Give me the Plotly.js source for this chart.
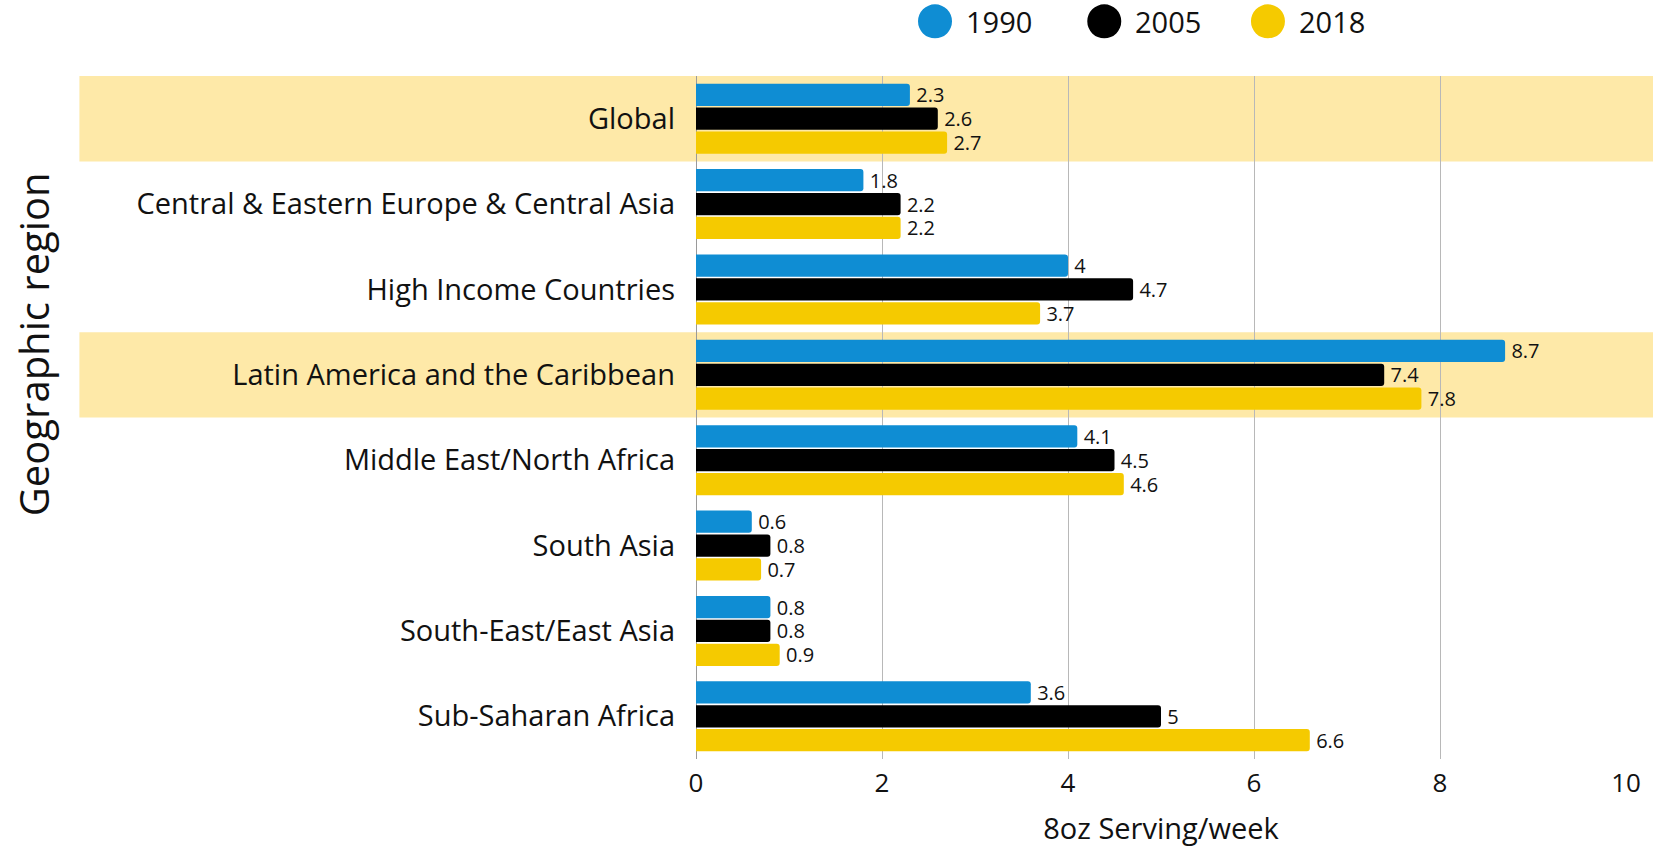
<!DOCTYPE html>
<html>
<head>
<meta charset="utf-8">
<script src="https://cdn.plot.ly/plotly-3.0.1.min.js"></script>
<style>
  html, body { margin: 0; padding: 0; background: #fff; }
  #grafica { width: 1653px; height: 847px; }
</style>
</head>
<body>
<div id="grafica"></div>
<script>
const regiones = [
  'Global',
  'Central & Eastern Europe & Central Asia',
  'High Income Countries',
  'Latin America and the Caribbean',
  'Middle East/North Africa',
  'South Asia',
  'South-East/East Asia',
  'Sub-Saharan Africa'
];

const anios = ['1990', '2005', '2018'];

const valores1990 = [2.3, 1.8, 4, 8.7, 4.1, 0.6, 0.8, 3.6];
const valores2005 = [2.6, 2.2, 4.7, 7.4, 4.5, 0.8, 0.8, 5];
const valores2018 = [2.7, 2.2, 3.7, 7.8, 4.6, 0.7, 0.9, 6.6];

const resaltadas = ['Global', 'Latin America and the Caribbean'];

const colores = ['#0f8dd3', '#000000', '#f5ca00'];
const fuente = '"Open Sans", Lato, sans-serif';

const series = [valores1990, valores2005, valores2018];

const trazas = series.map((vals, i) => ({
  type: 'bar',
  orientation: 'h',
  name: anios[i],
  y: regiones,
  x: vals,
  text: vals.map(v => '\u2009' + String(v)),
  textposition: 'outside',
  constraintext: 'none',
  textfont: { family: fuente, size: 20, color: '#111' },
  cliponaxis: false,
  marker: { color: colores[i], cornerradius: 3, line: { width: 0 } },
  showlegend: false,
  hoverinfo: 'skip'
}));

// bandas amarillas detrás de las regiones resaltadas
const bandas = resaltadas.map(r => {
  const idx = regiones.indexOf(r);
  return {
    type: 'rect',
    layer: 'below',
    xref: 'paper',
    yref: 'y',
    x0: -0.663,
    x1: 1.05,
    y0: idx - 0.5,
    y1: idx + 0.5,
    fillcolor: '#fee9a8',
    line: { width: 0 }
  };
});

// leyenda con círculos grandes
const leyX = [0.257, 0.439, 0.615];
const leyY = 1.08;
const circulos = anios.map((a, i) => ({
  type: 'circle',
  xref: 'paper',
  yref: 'paper',
  xsizemode: 'pixel',
  ysizemode: 'pixel',
  xanchor: leyX[i],
  yanchor: leyY,
  x0: -17, x1: 17,
  y0: -17, y1: 17,
  fillcolor: colores[i],
  line: { width: 0 }
}));

const textosLeyenda = anios.map((a, i) => ({
  xref: 'paper',
  yref: 'paper',
  x: leyX[i] + 0.031,
  y: leyY,
  xanchor: 'left',
  yanchor: 'middle',
  text: a,
  showarrow: false,
  font: { family: fuente, size: 29, color: '#111' }
}));

// título del eje y, desplazado hacia arriba como en el original
const tituloY = {
  xref: 'paper',
  yref: 'paper',
  x: -0.712,
  y: 0.607,
  xanchor: 'center',
  yanchor: 'middle',
  textangle: -90,
  text: 'Geographic region',
  showarrow: false,
  font: { family: fuente, size: 40, color: '#111' }
};

const layout = {
  width: 1653,
  height: 847,
  paper_bgcolor: '#ffffff',
  plot_bgcolor: 'rgba(0,0,0,0)',
  font: { family: fuente, color: '#111' },
  barmode: 'group',
  bargap: 0.16,
  bargroupgap: 0.07,
  margin: { l: 696, r: 27, t: 76, b: 88 },
  xaxis: {
    range: [0, 10],
    dtick: 2,
    showgrid: true,
    gridcolor: '#b8b8b8',
    gridwidth: 1,
    zeroline: true,
    zerolinecolor: '#9a9a9a',
    zerolinewidth: 1,
    showline: false,
    ticks: '',
    ticklabelstandoff: 6,
    tickfont: { family: fuente, size: 26, color: '#111' },
    title: { text: '8oz Serving/week', font: { family: fuente, size: 29, color: '#111' }, standoff: 20 },
    automargin: false
  },
  yaxis: {
    type: 'category',
    range: [7.5, -0.5],
    showgrid: false,
    zeroline: false,
    showline: false,
    ticks: '',
    ticklabelstandoff: 20,
    tickfont: { family: fuente, size: 29, color: '#111' },
    automargin: false
  },
  shapes: [...bandas, ...circulos],
  annotations: [...textosLeyenda, tituloY]
};

Plotly.newPlot('grafica', trazas, layout, { displayModeBar: false, staticPlot: true });
</script>
</body>
</html>
